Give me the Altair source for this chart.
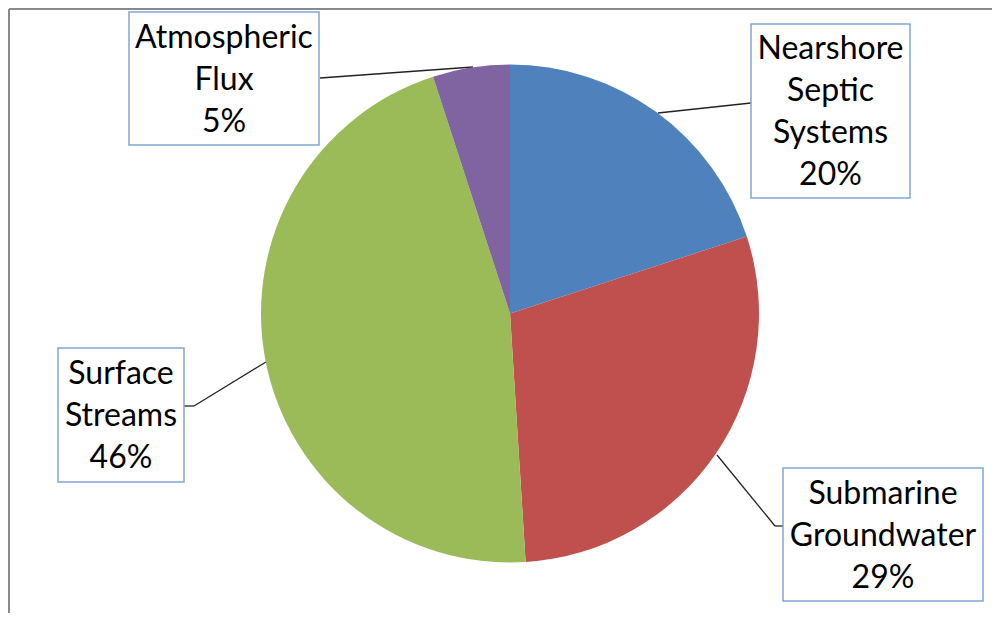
import altair as alt
import pandas as pd

# ---- data ----
categories = ["Nearshore Septic Systems", "Submarine Groundwater", "Surface Streams", "Atmospheric Flux"]
shares = [20, 29, 46, 5]
colors = ["#4F81BD", "#C0504D", "#9BBB59", "#8064A2"]
label_lines = [["Nearshore", "Septic", "Systems"], ["Submarine", "Groundwater"], ["Surface", "Streams"], ["Atmospheric", "Flux"]]

# ---- layout (page pixels; chart origin sits at the 8px page margin) ----
OX, OY = 8, 8
W, H = 984, 605
LH = 42
CX, CY, R = 510 - OX, 313.5 - OY, 249
boxes = [(751, 24, 910, 198), (783, 468, 983, 601), (58, 348, 184, 482), (129, 12, 319, 145)]
leaders = [[(751, 103), (658, 113)],
           [(783, 526), (775, 526), (717, 455)],
           [(184, 406), (194, 406), (266, 362)],
           [(320, 78), (473, 67)]]

pie_df = pd.DataFrame({"category": categories, "share": shares, "idx": list(range(len(categories)))})

full_labels = [l + [f"{s}%"] for l, s in zip(label_lines, shares)]
box_df = pd.DataFrame({
    "x0": [b[0] - OX for b in boxes], "x1": [b[2] - OX for b in boxes],
    "y0": [b[1] - OY for b in boxes], "y1": [b[3] - OY for b in boxes],
    "xc": [(b[0] + b[2]) / 2 - OX for b in boxes],
    "yt": [(b[1] + b[3]) / 2 - OY - (len(fl) - 1) * LH / 2 + 1 for b, fl in zip(boxes, full_labels)],
    "label": ["\n".join(fl) for fl in full_labels],
})

segs = []
for pts in leaders:
    for (a, b) in zip(pts[:-1], pts[1:]):
        segs.append({"x": a[0] - OX, "y": a[1] - OY, "x2": b[0] - OX, "y2": b[1] - OY})
seg_df = pd.DataFrame(segs)

frame_top = alt.Chart(pd.DataFrame({"k": [0]})).mark_rule(color="#8a8a8a", strokeWidth=2).encode(
    x=alt.value(1), x2=alt.value(W), y=alt.value(1))
frame_left = alt.Chart(pd.DataFrame({"k": [0]})).mark_rule(color="#8a8a8a", strokeWidth=2).encode(
    x=alt.value(1), y=alt.value(1), y2=alt.value(H))

lead = alt.Chart(seg_df).mark_rule(color="#222222", strokeWidth=1.3).encode(
    x=alt.X("x:Q", scale=None), y=alt.Y("y:Q", scale=None), x2="x2:Q", y2="y2:Q")

pie = alt.Chart(pie_df).mark_arc(radius=R).encode(
    theta=alt.Theta("share:Q", stack=True),
    color=alt.Color("category:N", scale=alt.Scale(domain=categories, range=colors), legend=None),
    order=alt.Order("idx:Q"),
    x=alt.value(CX), y=alt.value(CY))

rects = alt.Chart(box_df).mark_rect(fill="white", stroke="#7FA6D6", strokeWidth=1.5).encode(
    x=alt.X("x0:Q", scale=None), x2="x1:Q", y=alt.Y("y0:Q", scale=None), y2="y1:Q")

texts = alt.Chart(box_df).mark_text(lineBreak="\n", font="Lato", fontSize=32, lineHeight=LH,
                                    align="center", baseline="middle", color="black").encode(
    x=alt.X("xc:Q", scale=None), y=alt.Y("yt:Q", scale=None), text="label:N")

chart = alt.layer(frame_top, frame_left, lead, pie, rects, texts).properties(
    width=W, height=H, padding=0, autosize=alt.AutoSizeParams(type="none")
).configure_view(stroke=None)

chart.save("out.html", embed_options={"renderer": "svg", "actions": False})
